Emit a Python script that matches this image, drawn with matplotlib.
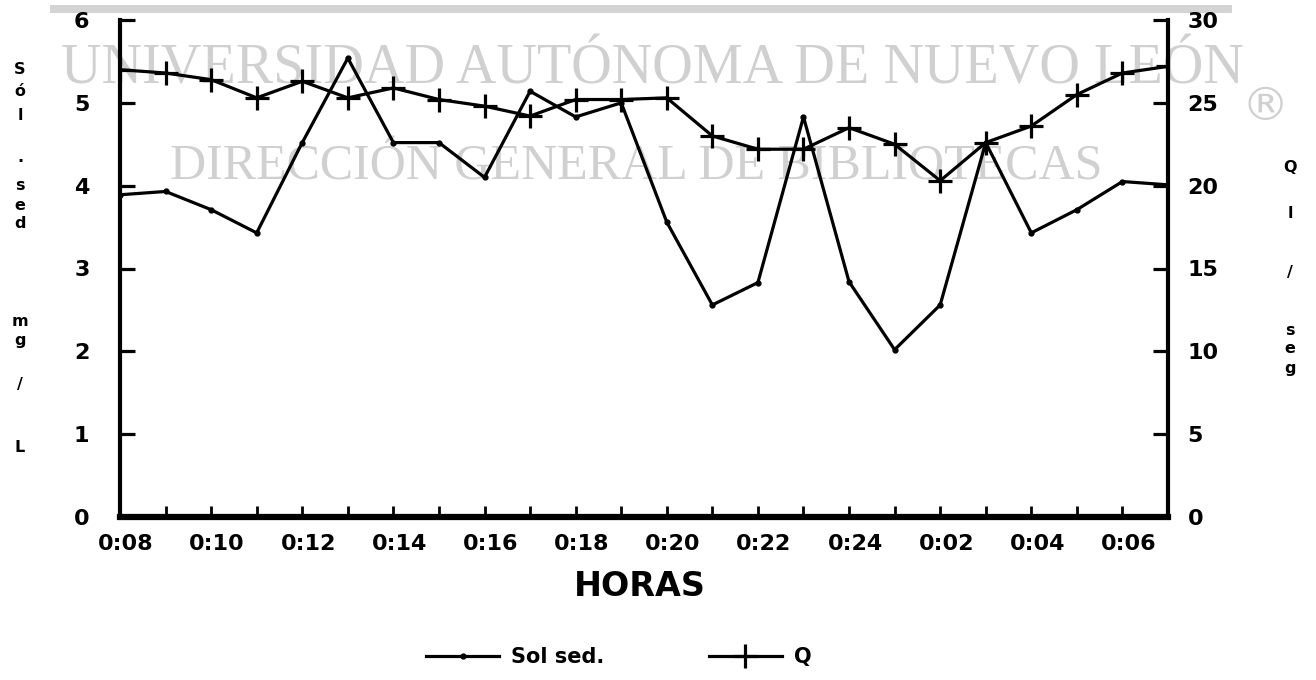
import matplotlib
matplotlib.use("Agg")
import matplotlib.pyplot as plt
import matplotlib.transforms as mtransforms
from matplotlib.patches import Rectangle

# ---------------- data ----------------
hours = list(range(24))
hour_labels = ["0:08", "0:10", "0:12", "0:14", "0:16", "0:18",
               "0:20", "0:22", "0:24", "0:02", "0:04", "0:06"]
sol_sed = [3.89, 3.93, 3.71, 3.43, 4.52, 5.54, 4.52, 4.52, 4.10, 5.14, 4.83, 5.00,
           3.56, 2.56, 2.83, 4.83, 2.84, 2.02, 2.56, 4.52, 3.43, 3.71, 4.05, 4.01]
caudal_q = [27.0, 26.8, 26.4, 25.3, 26.3, 25.3, 25.9, 25.2, 24.8, 24.2, 25.2, 25.2,
            25.3, 23.0, 22.2, 22.2, 23.5, 22.5, 20.3, 22.6, 23.6, 25.5, 26.8, 27.2]
left_ticks = [0, 1, 2, 3, 4, 5, 6]
right_ticks = [0, 5, 10, 15, 20, 25, 30]
legend_labels = ["Sol sed.", "Q"]
xlabel = "HORAS"
left_label = "Sól. sed mg/L"
right_label = "Q l/seg"

plt.rcParams['font.family'] = ['DejaVu Sans']
plt.rcParams['font.weight'] = 'bold'

W, H = 1316, 680
fig = plt.figure(figsize=(W / 100, H / 100), dpi=100)
fig.patch.set_facecolor('white')

# watermark (behind the chart)
wm_color = '#d0d0d0'
fig.patches.append(Rectangle((50 / W, 1 - 13 / H), 1182 / W, 8 / H,
                             transform=fig.transFigure, facecolor='#d4d4d4',
                             edgecolor='none', zorder=-5))
fig.text(652 / W, 1 - 83 / H, "UNIVERSIDAD AUTÓNOMA DE NUEVO LEÓN",
         family='Liberation Serif', fontweight='normal', fontsize=40.5,
         color=wm_color, ha='center', va='baseline', zorder=-5)
fig.text(636 / W, 1 - 180 / H, "DIRECCIÓN GENERAL DE BIBLIOTECAS",
         family='Liberation Serif', fontweight='normal', fontsize=36,
         color=wm_color, ha='center', va='baseline', zorder=-5)
fig.text(1265 / W, 1 - 108 / H, "®", family='DejaVu Sans', fontweight='normal',
         fontsize=34, color=wm_color, ha='center', va='center', zorder=-5)

ax = fig.add_axes([120 / W, (H - 517) / H, 1048 / W, 497 / H])
ax.patch.set_alpha(0)
ax2 = ax.twinx()
ax2.patch.set_alpha(0)

l1, = ax.plot(hours, sol_sed, color='black', lw=2.3, marker='o', ms=3.5,
              markerfacecolor='black', markeredgecolor='black')
l2, = ax2.plot(hours, caudal_q, color='black', lw=2.3, marker='+', ms=17,
               markeredgewidth=2.3)

ax.set_xlim(0, 23)
ax.set_ylim(0, 6)
ax2.set_ylim(0, 30)
ax.set_yticks(left_ticks)
ax.set_yticklabels([str(v) for v in left_ticks])
ax2.set_yticks(right_ticks)
ax2.set_yticklabels([str(v) for v in right_ticks])
ax.set_xticks(hours)
ax.set_xticklabels([hour_labels[i // 2] if i % 2 == 0 else '' for i in hours])

for a in (ax, ax2):
    a.spines['top'].set_visible(False)
    a.spines['left'].set_linewidth(3)
    a.spines['right'].set_linewidth(3)
    a.spines['bottom'].set_linewidth(4.5)
ax.spines['right'].set_visible(False)
ax2.spines['left'].set_visible(False)
ax2.spines['bottom'].set_visible(False)

ax.tick_params(axis='y', direction='in', length=11, width=2.3, labelsize=16, pad=22)
ax.tick_params(axis='x', direction='in', length=8, width=2, labelsize=16, pad=12)
ax2.tick_params(axis='y', direction='in', length=11, width=2.3, labelsize=16, pad=14)

offset = mtransforms.ScaledTranslation(6 / 100, 0, fig.dpi_scale_trans)
for lbl in ax.get_xticklabels():
    lbl.set_transform(lbl.get_transform() + offset)

fig.text(640 / W, 1 - 586 / H, xlabel, fontsize=24, fontweight='bold',
         ha='center', va='center')

# stacked axis titles
left_chars = [c for c in left_label if c != ' ']
left_y = [70, 92, 116, 158, 186, 205, 224, 322, 341, 385, 447]
for c, y in zip(left_chars, left_y):
    fig.text(20 / W, 1 - y / H, c, fontsize=11.5, fontweight='bold',
             ha='center', va='center')
right_chars = [c for c in right_label if c != ' ']
right_y = [167, 213, 272, 330, 349, 368]
for c, y in zip(right_chars, right_y):
    fig.text(1290 / W, 1 - y / H, c, fontsize=11.5, fontweight='bold',
             ha='center', va='center')

fig.legend([l1, l2], legend_labels, loc='center', bbox_to_anchor=(619 / W, 1 - 657 / H),
           ncol=2, frameon=False, fontsize=15, handlelength=3.5,
           handletextpad=0.6, columnspacing=5)

fig.savefig("out.png", dpi=100)
